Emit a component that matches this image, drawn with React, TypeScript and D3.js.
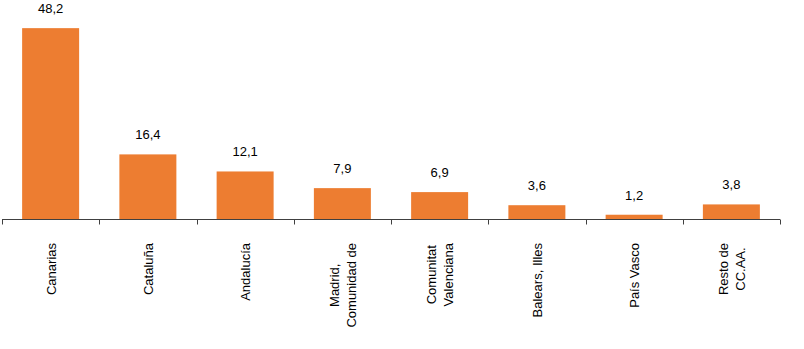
import React, { useEffect, useRef } from "react";
import * as d3 from "d3";

const categories: string[][] = [
  ["Canarias"],
  ["Cataluña"],
  ["Andalucía"],
  ["Madrid,", "Comunidad de"],
  ["Comunitat", "Valenciana"],
  ["Balears, Illes"],
  ["País Vasco"],
  ["Resto de", "CC.AA."],
];
const values: number[] = [48.2, 16.4, 12.1, 7.9, 6.9, 3.6, 1.2, 3.8];

const W = 804;
const H = 349;
const X0 = 2;
const X1 = 780;
const BASE = 219.5;
const TOP = 21;
const BAR = "#ED7D31";
const FONT = "'Liberation Sans', Arial, sans-serif";

export default function App() {
  const ref = useRef<SVGSVGElement | null>(null);

  useEffect(() => {
    const svg = d3.select(ref.current);
    svg.selectAll("*").remove();
    const idx = categories.map((_, i) => String(i));
    const p = 0.414;
    const x = d3.scaleBand<string>().domain(idx).range([X0, X1]).paddingInner(p).paddingOuter(p / 2);
    const y = d3.scaleLinear().domain([0, 50]).range([BASE, TOP]);
    const step = x.step();

    svg
      .append("g")
      .selectAll("rect")
      .data(values)
      .join("rect")
      .attr("x", (_, i) => x(String(i))!)
      .attr("width", x.bandwidth())
      .attr("y", (d) => y(d))
      .attr("height", (d) => y(0) - y(d))
      .attr("fill", BAR);

    svg
      .append("g")
      .selectAll("text")
      .data(values)
      .join("text")
      .attr("x", (_, i) => x(String(i))! + x.bandwidth() / 2)
      .attr("y", (d) => y(d) - 15)
      .attr("text-anchor", "middle")
      .attr("font-family", FONT)
      .attr("font-size", 13)
      .attr("fill", "#000")
      .text((d) => d3.format(".1f")(d).replace(".", ","));

    // axis
    const ax = svg.append("g").attr("stroke", "#404040").attr("stroke-width", 1);
    ax.append("line").attr("x1", X0).attr("x2", X1).attr("y1", BASE).attr("y2", BASE);
    const bounds = d3.range(categories.length + 1).map((i) => X0 + (step * p) / 2 * 0 + i * step);
    ax.selectAll("line.t")
      .data(bounds)
      .join("line")
      .attr("class", "t")
      .attr("x1", (d) => Math.round(d) + 0.5)
      .attr("x2", (d) => Math.round(d) + 0.5)
      .attr("y1", BASE)
      .attr("y2", BASE + 5);

    // category labels
    const lh = 16.5;
    const top = 243;
    categories.forEach((lines, i) => {
      const cx = x(String(i))! + x.bandwidth() / 2;
      const g = svg.append("g");
      const texts = lines.map((line, j) =>
        g
          .append("text")
          .attr("font-family", FONT)
          .attr("font-size", 13)
          .attr("fill", "#000")
          .attr("text-anchor", "middle")
          .text(line)
      );
      const lens = texts.map((t) => (t.node() as SVGTextElement).getComputedTextLength());
      const maxLen = Math.max(...lens);
      const cy = top + maxLen / 2;
      const n = lines.length;
      texts.forEach((t, j) => {
        const bx = cx + 5 + (j - (n - 1) / 2) * lh;
        t.attr("transform", `translate(${bx},${cy}) rotate(-90)`);
      });
    });
  }, []);

  return (
    <svg
      ref={ref}
      width={W}
      height={H}
      style={{ position: "absolute", left: 0, top: 0, background: "#fff" }}
    />
  );
}
